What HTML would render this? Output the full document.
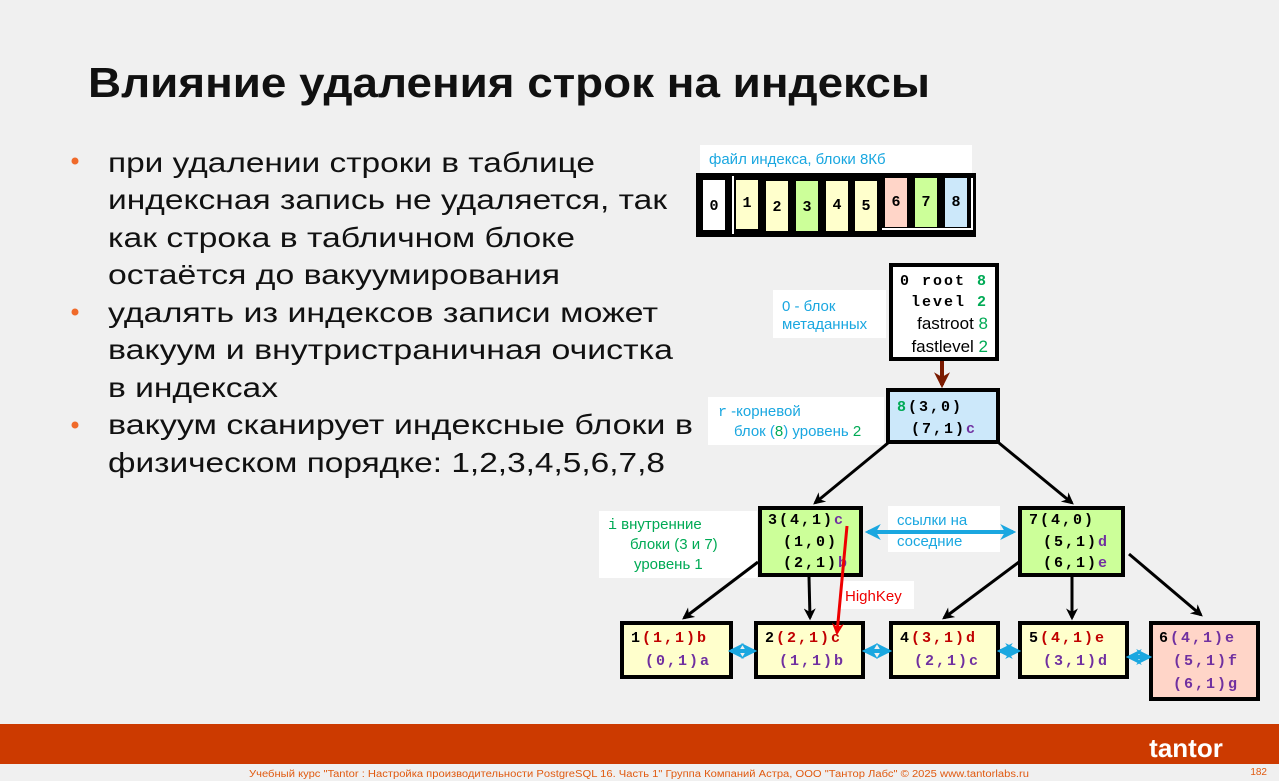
<!DOCTYPE html>
<html><head><meta charset="utf-8"><style>
html,body{margin:0;padding:0;background:#f0f0f0;}
svg{display:block;}
.s{font-family:"Liberation Sans","DejaVu Sans",sans-serif;}
.m{font-family:"Liberation Mono","DejaVu Sans Mono",monospace;font-weight:bold;letter-spacing:2px;}
</style></head><body>
<svg width="1279" height="781" viewBox="0 0 1279 781" xmlns="http://www.w3.org/2000/svg">
<defs>
<marker id="ab" viewBox="0 0 10 10" refX="8" refY="5" markerWidth="4" markerHeight="4" orient="auto"><path d="M0,0 L10,5 L0,10 L3,5z" fill="#000"/></marker>
<marker id="ar" viewBox="0 0 10 10" refX="8" refY="5" markerWidth="4" markerHeight="4" orient="auto"><path d="M0,0 L10,5 L0,10 L3,5z" fill="#e00"/></marker>
<marker id="abr" viewBox="0 0 10 10" refX="8" refY="5" markerWidth="4" markerHeight="4" orient="auto"><path d="M0,0 L10,5 L0,10 L3,5z" fill="#7a1a00"/></marker>
<marker id="ac" viewBox="0 0 10 10" refX="8" refY="5" markerWidth="4" markerHeight="4" orient="auto-start-reverse"><path d="M0,0 L10,5 L0,10 L3,5z" fill="#1aa7e0"/></marker>
</defs>
<rect width="1279" height="781" fill="#f0f0f0"/>
<text class="s" x="88" y="97" font-size="42" font-weight="bold" textLength="842" lengthAdjust="spacingAndGlyphs" fill="#111">Влияние удаления строк на индексы</text>
<g class="s" font-size="28" fill="#111">
<circle cx="75" cy="161" r="3.5" fill="#f06a2a"/><circle cx="75" cy="312" r="3.5" fill="#f06a2a"/><circle cx="75" cy="425" r="3.5" fill="#f06a2a"/>
<text x="108" y="172" textLength="487" lengthAdjust="spacingAndGlyphs">при удалении строки в таблице</text>
<text x="108" y="209" textLength="559" lengthAdjust="spacingAndGlyphs">индексная запись не удаляется, так</text>
<text x="108" y="247" textLength="467" lengthAdjust="spacingAndGlyphs">как строка в табличном блоке</text>
<text x="108" y="284" textLength="452" lengthAdjust="spacingAndGlyphs">остаётся до вакуумирования</text>
<text x="108" y="322" textLength="550" lengthAdjust="spacingAndGlyphs">удалять из индексов записи может</text>
<text x="108" y="359" textLength="565" lengthAdjust="spacingAndGlyphs">вакуум и внутристраничная очистка</text>
<text x="108" y="397" textLength="170" lengthAdjust="spacingAndGlyphs">в индексах</text>
<text x="108" y="434" textLength="585" lengthAdjust="spacingAndGlyphs">вакуум сканирует индексные блоки в</text>
<text x="108" y="472" textLength="557" lengthAdjust="spacingAndGlyphs">физическом порядке: 1,2,3,4,5,6,7,8</text>
</g>
<!-- file -->
<rect x="700" y="145" width="272" height="28" fill="#fff"/>
<text class="s" x="709" y="164" font-size="15" fill="#1aa7e0">файл индекса, блоки 8Кб</text>
<rect x="696" y="173" width="280" height="64" fill="#000"/>
<rect x="732" y="176" width="2" height="58" fill="#fff"/>
<rect x="882" y="228" width="90" height="2" fill="#fff"/>
<rect x="971" y="178" width="2" height="52" fill="#fff"/>
<g font-family="Liberation Mono, monospace" font-weight="bold" font-size="15" text-anchor="middle">
<rect x="703" y="180" width="22" height="50" fill="#fff"/><text x="714" y="210">0</text>
<rect x="736" y="180" width="22" height="49" fill="#ffffcc"/><text x="747" y="207">1</text>
<rect x="766" y="181" width="22" height="50" fill="#ffffcc"/><text x="777" y="211">2</text>
<rect x="796" y="181" width="22" height="50" fill="#ccff99"/><text x="807" y="211">3</text>
<rect x="826" y="181" width="22" height="50" fill="#ffffcc"/><text x="837" y="209">4</text>
<rect x="855" y="181" width="22" height="50" fill="#ffffcc"/><text x="866" y="210">5</text>
<rect x="885" y="178" width="22" height="49" fill="#ffd5c8"/><text x="896" y="206">6</text>
<rect x="915" y="178" width="22" height="49" fill="#ccff99"/><text x="926" y="206">7</text>
<rect x="945" y="178" width="22" height="49" fill="#cce8fa"/><text x="956" y="206">8</text>
</g>
<!-- meta -->
<rect x="773" y="290" width="113" height="48" fill="#fff"/>
<text class="s" x="782" y="311" font-size="15" fill="#1aa7e0">0 - блок</text>
<text class="s" x="782" y="329" font-size="15" fill="#1aa7e0">метаданных</text>
<rect x="891" y="265" width="106" height="94" fill="#fff" stroke="#000" stroke-width="4"/>
<text class="m" x="900" y="285" font-size="15">0 root <tspan fill="#0a5">8</tspan></text>
<text class="m" x="911" y="306" font-size="15">level <tspan fill="#0a5">2</tspan></text>
<text class="s" x="988" y="329" font-size="17" text-anchor="end">fastroot <tspan fill="#0a5">8</tspan></text>
<text class="s" x="988" y="352" font-size="17" text-anchor="end">fastlevel <tspan fill="#0a5">2</tspan></text>
<line x1="942" y1="361" x2="942" y2="385" stroke="#7a1a00" stroke-width="4" marker-end="url(#abr)"/>
<!-- root -->
<rect x="708" y="397" width="176" height="48" fill="#fff"/>
<text class="s" x="718" y="416" font-size="15" fill="#1aa7e0"><tspan font-family="Liberation Mono, monospace">r</tspan> -корневой</text>
<text class="s" x="734" y="436" font-size="15" fill="#1aa7e0">блок (<tspan fill="#0a5">8</tspan>) уровень <tspan fill="#0a5">2</tspan></text>
<rect x="888" y="390" width="110" height="52" fill="#cce8fa" stroke="#000" stroke-width="4"/>
<text class="m" x="897" y="411" font-size="15"><tspan fill="#0a5">8</tspan>(3,0)</text>
<text class="m" x="911" y="433" font-size="15">(7,1)<tspan fill="#7030a0">c</tspan></text>
<line x1="888" y1="443" x2="815" y2="503" stroke="#000" stroke-width="3" marker-end="url(#ab)"/>
<line x1="999" y1="443" x2="1072" y2="503" stroke="#000" stroke-width="3" marker-end="url(#ab)"/>
<!-- level 1 -->
<rect x="599" y="511" width="158" height="67" fill="#fff"/>
<text class="s" x="608" y="529" font-size="15" fill="#0a5"><tspan font-family="Liberation Mono, monospace">i</tspan> внутренние</text>
<text class="s" x="630" y="549" font-size="15" fill="#0a5">блоки (3 и 7)</text>
<text class="s" x="634" y="569" font-size="15" fill="#0a5">уровень 1</text>
<rect x="888" y="506" width="112" height="46" fill="#fff"/>
<text class="s" x="897" y="525" font-size="15" fill="#1aa7e0">ссылки на</text>
<text class="s" x="897" y="546" font-size="15" fill="#1aa7e0">соседние</text>
<line x1="868" y1="532" x2="1013" y2="532" stroke="#1aa7e0" stroke-width="4" marker-start="url(#ac)" marker-end="url(#ac)"/>
<rect x="760" y="508" width="101" height="67" fill="#ccff99" stroke="#000" stroke-width="4"/>
<text class="m" x="768" y="524" font-size="15">3(4,1)<tspan fill="#7030a0">c</tspan></text>
<text class="m" x="783" y="546" font-size="15">(1,0)</text>
<text class="m" x="783" y="567" font-size="15">(2,1)<tspan fill="#7030a0">b</tspan></text>
<rect x="1020" y="508" width="103" height="67" fill="#ccff99" stroke="#000" stroke-width="4"/>
<text class="m" x="1029" y="524" font-size="15">7(4,0)</text>
<text class="m" x="1043" y="546" font-size="15">(5,1)<tspan fill="#7030a0">d</tspan></text>
<text class="m" x="1043" y="567" font-size="15">(6,1)<tspan fill="#7030a0">e</tspan></text>
<!-- edges -->
<line x1="758" y1="562" x2="684" y2="618" stroke="#000" stroke-width="3" marker-end="url(#ab)"/>
<line x1="809" y1="577" x2="810" y2="618" stroke="#000" stroke-width="3" marker-end="url(#ab)"/>
<line x1="1019" y1="562" x2="944" y2="618" stroke="#000" stroke-width="3" marker-end="url(#ab)"/>
<line x1="1072" y1="577" x2="1072" y2="618" stroke="#000" stroke-width="3" marker-end="url(#ab)"/>
<line x1="1129" y1="554" x2="1201" y2="615" stroke="#000" stroke-width="3" marker-end="url(#ab)"/>
<rect x="840" y="581" width="74" height="28" fill="#fff"/>
<text class="s" x="845" y="601" font-size="15" fill="#e00">HighKey</text>
<!-- leaves -->
<g class="m" font-size="15">
<rect x="622" y="623" width="109" height="54" fill="#ffffcc" stroke="#000" stroke-width="4"/>
<text x="631" y="642">1<tspan fill="#c00000">(1,1)b</tspan></text>
<text x="645" y="665" fill="#7030a0">(0,1)a</text>
<rect x="756" y="623" width="107" height="54" fill="#ffffcc" stroke="#000" stroke-width="4"/>
<text x="765" y="642">2<tspan fill="#c00000">(2,1)c</tspan></text>
<text x="779" y="665" fill="#7030a0">(1,1)b</text>
<rect x="891" y="623" width="107" height="54" fill="#ffffcc" stroke="#000" stroke-width="4"/>
<text x="900" y="642">4<tspan fill="#c00000">(3,1)d</tspan></text>
<text x="914" y="665" fill="#7030a0">(2,1)c</text>
<rect x="1020" y="623" width="107" height="54" fill="#ffffcc" stroke="#000" stroke-width="4"/>
<text x="1029" y="642">5<tspan fill="#c00000">(4,1)e</tspan></text>
<text x="1043" y="665" fill="#7030a0">(3,1)d</text>
<rect x="1151" y="623" width="107" height="76" fill="#ffd5c8" stroke="#000" stroke-width="4"/>
<text x="1159" y="642">6<tspan fill="#7030a0">(4,1)e</tspan></text>
<text x="1173" y="665" fill="#7030a0">(5,1)f</text>
<text x="1173" y="688" fill="#7030a0">(6,1)g</text>
</g>
<line x1="847" y1="526" x2="837" y2="633" stroke="#e00" stroke-width="3" marker-end="url(#ar)"/>
<g stroke="#1aa7e0" stroke-width="4">
<line x1="731" y1="651" x2="754" y2="651" marker-start="url(#ac)" marker-end="url(#ac)"/>
<line x1="865" y1="651" x2="889" y2="651" marker-start="url(#ac)" marker-end="url(#ac)"/>
<line x1="1000" y1="651" x2="1018" y2="651" marker-start="url(#ac)" marker-end="url(#ac)"/>
<line x1="1129" y1="657" x2="1149" y2="657" marker-start="url(#ac)" marker-end="url(#ac)"/>
</g>
<!-- footer -->
<rect x="0" y="724" width="1279" height="40" fill="#cc3a00"/>
<text class="s" x="1186" y="757" font-size="26" fill="#fff" text-anchor="middle" font-weight="bold">tantor</text>
<text class="s" x="639" y="777" font-size="10" fill="#e05a10" text-anchor="middle" textLength="780" lengthAdjust="spacingAndGlyphs">Учебный курс "Tantor : Настройка производительности PostgreSQL 16. Часть 1" Группа Компаний Астра, ООО "Тантор Лабс" © 2025 www.tantorlabs.ru</text>
<text class="s" x="1267" y="775" font-size="10" fill="#e05a10" text-anchor="end">182</text>
</svg>
</body></html>
